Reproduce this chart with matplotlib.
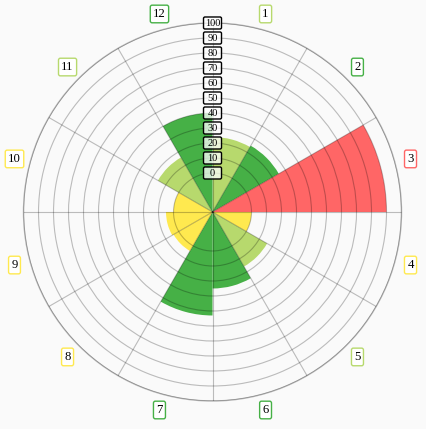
import numpy as np
import matplotlib
matplotlib.use("Agg")
from matplotlib import pyplot as plt
from matplotlib.patches import FancyBboxPatch
from matplotlib.transforms import IdentityTransform

# sector data (clockwise from the top)
sectors = ['1', '2', '3', '4', '5', '6', '7', '8', '9', '10', '11', '12']
values = [24, 25, 90, 0, 16, 25, 43, 4, 5, 0, 16, 40]
colors = ['#b7d96d', '#46b046', '#ff6666', '#ffe94f', '#b7d96d', '#46b046',
          '#46b046', '#ffe94f', '#ffe94f', '#ffe94f', '#b7d96d', '#46b046']
ticks = [0, 10, 20, 30, 40, 50, 60, 70, 80, 90, 100]

r_min = -26
r_max = 100
bg = '#fafafa'

fig = plt.figure(figsize=(4.26, 4.29), dpi=100, facecolor=bg)
ax = fig.add_axes([0.0552, 0.0653, 0.8873, 0.8811], projection='polar')
ax.set_facecolor(bg)
ax.set_theta_zero_location('N')
ax.set_theta_direction(-1)

step = 2 * np.pi / len(sectors)
theta = np.arange(len(sectors)) * step + step / 2
ax.bar(theta, np.array(values) - r_min, width=step, bottom=r_min,
       color=colors, linewidth=0, align='center', zorder=1)

ax.set_ylim(r_min, r_max)
ax.set_yticks(ticks)
ax.set_yticklabels([])
ax.set_xticks(np.arange(len(sectors)) * step)
ax.set_xticklabels([])
ax.grid(True, color='black', alpha=0.25, linewidth=0.8)
ax.set_axisbelow(False)
ax.spines['polar'].set_color('#b4b4b4')
ax.spines['polar'].set_linewidth(1.0)

# tick labels in fixed size boxes along the top spoke (pixel coords)
box_w, box_h = 18, 12
for t in ticks:
    px, py = ax.transData.transform((0, t))
    ax.add_patch(FancyBboxPatch(
        (px - box_w / 2, py - box_h / 2), box_w, box_h,
        boxstyle='round,pad=0,rounding_size=1.5', transform=IdentityTransform(),
        facecolor=(1, 1, 1, 0.75), edgecolor='black', linewidth=1.0,
        clip_on=False, zorder=4))
    ax.text(0, t, str(t), ha='center', va='center_baseline', fontsize=7.5,
            family='Liberation Serif', color='black', zorder=5)

# sector labels outside the circle
label_r = r_min + 205 / 1.5
for th, name, c in zip(theta, sectors, colors):
    ax.text(th, label_r, name, ha='center', va='center', fontsize=9.2,
            family='Liberation Serif', color='black', clip_on=False, zorder=5,
            bbox=dict(boxstyle='round,pad=0.22,rounding_size=0.15',
                      facecolor='white', edgecolor=c, linewidth=1.0))

fig.savefig('out.png', dpi=100, facecolor=bg)
